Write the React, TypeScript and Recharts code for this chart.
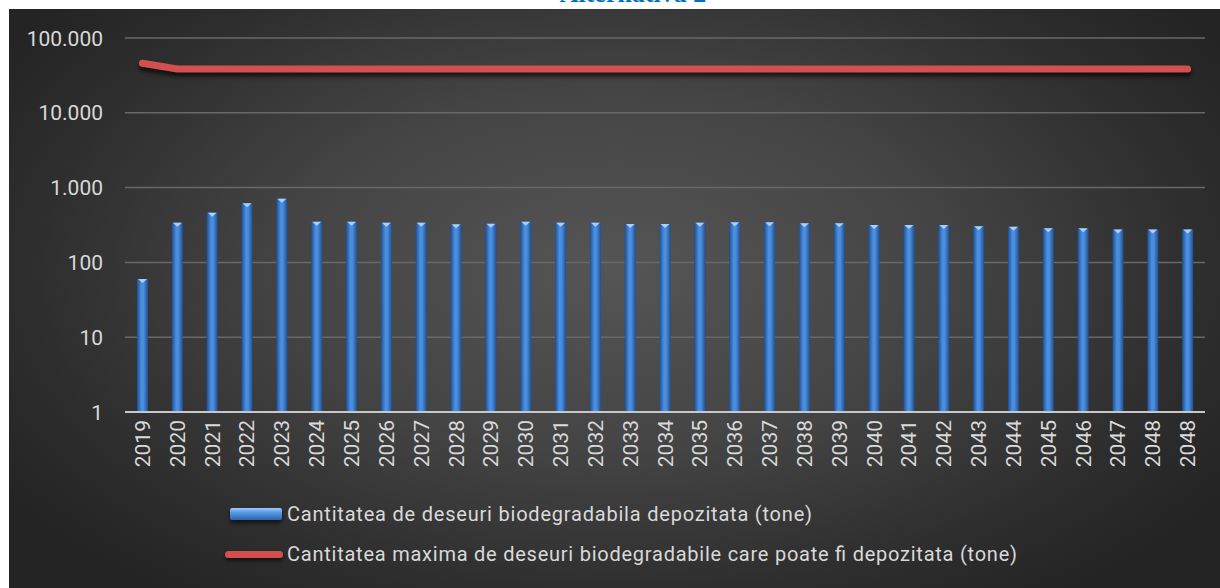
import React from "react";
import {
  ComposedChart,
  Bar,
  Line,
  XAxis,
  YAxis,
  CartesianGrid,
  Legend,
} from "recharts";

// years on the category axis (the last year appears twice in the source table)
const years = [
  "2019", "2020", "2021", "2022", "2023", "2024", "2025", "2026", "2027", "2028",
  "2029", "2030", "2031", "2032", "2033", "2034", "2035", "2036", "2037", "2038",
  "2039", "2040", "2041", "2042", "2043", "2044", "2045", "2046", "2047", "2048",
  "2048",
];

// tone, stored biodegradable waste
const depozitata = [
  60, 340, 462, 617, 711, 350, 350, 340, 340, 323,
  328, 350, 340, 340, 326, 326, 340, 343, 343, 333,
  333, 316, 316, 316, 305, 300, 286, 286, 276, 276,
  276,
];

// tone, maximum quantity allowed to be stored
const maxim = [
  45900, 38500, 38500, 38500, 38500, 38500, 38500, 38500, 38500, 38500,
  38500, 38500, 38500, 38500, 38500, 38500, 38500, 38500, 38500, 38500,
  38500, 38500, 38500, 38500, 38500, 38500, 38500, 38500, 38500, 38500,
  38500,
];

const yTicks = [1, 10, 100, 1000, 10000, 100000];

const LABEL_BAR = "Cantitatea de deseuri biodegradabila depozitata (tone)";
const LABEL_LINE = "Cantitatea maxima de deseuri biodegradabile care poate fi depozitata (tone)";

const data = years.map((year, i) => ({
  year,
  depozitata: depozitata[i],
  maxim: maxim[i],
}));

const TEXT = "#d9d9d9";
const FONT = "Roboto, 'Open Sans', sans-serif";

const fmtThousands = (v: number) => String(v).replace(/\B(?=(\d{3})+(?!\d))/g, ".");

function BarShape(props: any) {
  const { x, y, width, height } = props;
  if (!height || height <= 0) return null;
  return (
    <g>
      <rect x={x} y={y} width={width} height={height} fill="url(#barGrad)" />
      <polygon
        points={`${x + 1},${y} ${x + width - 1},${y} ${x + width / 2},${y + 4}`}
        fill="#bcdcff"
        opacity={0.85}
      />
    </g>
  );
}

function XTick(props: any) {
  const { x, y, payload } = props;
  return (
    <text
      x={x}
      y={y}
      transform={`rotate(-90, ${x}, ${y})`}
      textAnchor="end"
      dy="0.36em"
      fill={TEXT}
      fontSize={21}
      fontFamily={FONT}
    >
      {payload.value}
    </text>
  );
}

function YTick(props: any) {
  const { x, y, payload } = props;
  return (
    <text x={x} y={y} textAnchor="end" dy="0.36em" fill={TEXT} fontSize={21} fontFamily={FONT}>
      {fmtThousands(payload.value)}
    </text>
  );
}

function LegendBox() {
  return (
    <svg width={1150} height={80} style={{ display: "block" }}>
      <defs>
        <linearGradient id="legendBarGrad" x1="0" y1="0" x2="0" y2="1">
          <stop offset="0%" stopColor="#9ccbff" />
          <stop offset="35%" stopColor="#5b9be6" />
          <stop offset="100%" stopColor="#2a62b0" />
        </linearGradient>
        <filter id="legendShadow" filterUnits="userSpaceOnUse" x="200" y="0" width="120" height="80">
          <feDropShadow dx="0" dy="3" stdDeviation="2" floodColor="#000" floodOpacity="0.6" />
        </filter>
      </defs>
      <rect x={230} y={13} width={52} height={12} rx={2} fill="url(#legendBarGrad)" filter="url(#legendShadow)" />
      <text
        x={287}
        y={19}
        dy="0.36em"
        fill={TEXT}
        fontSize={20}
        fontFamily={FONT}
        textLength={525}
        lengthAdjust="spacing"
      >
        {LABEL_BAR}
      </text>
      <rect x={225} y={56} width={58} height={7} rx={3.5} fill="#d2504f" filter="url(#legendShadow)" />
      <text
        x={287}
        y={59}
        dy="0.36em"
        fill={TEXT}
        fontSize={20}
        fontFamily={FONT}
        textLength={730}
        lengthAdjust="spacing"
      >
        {LABEL_LINE}
      </text>
    </svg>
  );
}

export default function App() {
  return (
    <div style={{ position: "absolute", left: 0, top: 0, width: 1220, height: 588, overflow: "hidden", background: "#fff" }}>
      <div
        style={{
          position: "absolute",
          left: 0,
          width: 1266,
          top: -19,
          textAlign: "center",
          fontFamily: "'Liberation Serif', 'Times New Roman', serif",
          fontWeight: 700,
          fontSize: 26,
          lineHeight: "26px",
          color: "#0070c0",
        }}
      >
        Alternativa 2
      </div>
      <div
        style={{
          position: "absolute",
          left: 9,
          top: 9,
          width: 1211,
          height: 579,
          background:
            "radial-gradient(ellipse 60% 70% at 50% 45%, #555555 0%, #444444 45%, #2e2e2e 80%, #242424 100%)",
        }}
      />
      <style>{`.maxLine .recharts-line-curve { filter: drop-shadow(0px 4px 2px rgba(0,0,0,0.65)); }`}</style>
      <div style={{ position: "absolute", left: 0, top: 0 }}>
        <ComposedChart
          width={1220}
          height={588}
          data={data}
          margin={{ top: 38, right: 15, bottom: 116, left: 0 }}
          barCategoryGap="68%"
        >
          <defs>
            <linearGradient id="barGrad" x1="0" y1="0" x2="1" y2="0">
              <stop offset="0%" stopColor="#1d4f92" />
              <stop offset="40%" stopColor="#4b8fe0" />
              <stop offset="60%" stopColor="#4a8cdc" />
              <stop offset="100%" stopColor="#1f4f90" />
            </linearGradient>
          </defs>
          <CartesianGrid vertical={false} stroke="#686868" strokeWidth={1.5} />
          <XAxis
            dataKey="year"
            height={60}
            interval={0}
            tickLine={false}
            axisLine={{ stroke: "#c8c8c8", strokeWidth: 2 }}
            tick={<XTick />}
          />
          <YAxis
            scale="log"
            domain={[1, 100000]}
            ticks={yTicks}
            allowDataOverflow
            width={125}
            tickLine={false}
            axisLine={false}
            tickMargin={16}
            tick={<YTick />}
          />
          <Bar
            dataKey="depozitata"
            name={LABEL_BAR}
            barSize={11}
            shape={<BarShape />}
            isAnimationActive={false}
          />
          <Line
            className="maxLine"
            dataKey="maxim"
            name={LABEL_LINE}
            type="linear"
            stroke="#d2504f"
            strokeWidth={7}
            strokeLinecap="round"
            dot={false}
            activeDot={false}
            isAnimationActive={false}
          />
          <Legend
            layout="horizontal"
            verticalAlign="middle"
            align="center"
            wrapperStyle={{ left: 0, top: 495, width: 1150, height: 80 }}
            content={() => <LegendBox />}
          />
        </ComposedChart>
      </div>
    </div>
  );
}
